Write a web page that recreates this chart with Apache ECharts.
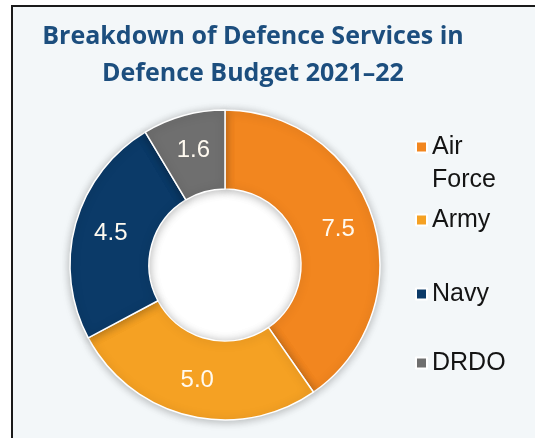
<!DOCTYPE html>
<html>
<head>
<meta charset="utf-8">
<script src="https://cdn.jsdelivr.net/npm/echarts@6/dist/echarts.min.js"></script>
<style>
	html, body { margin: 0; padding: 0; background: #fff; }
	#frame {
		position: absolute; left: 11px; top: 5px; width: 524px; height: 433px;
		border-top: 2px solid #1a1a1a; border-left: 2px solid #1a1a1a;
		background: #F3F7F9;
	}
	#main { position: absolute; left: 0; top: 0; width: 535px; height: 438px; }
</style>
</head>
<body>
<div id="frame"></div>
<div id="main"></div>
<script>
var TITLE = "Breakdown of Defence Services in\nDefence Budget 2021\u201322";
var services = ["Air Force", "Army", "Navy", "DRDO"];
var budget = [7.5, 5.0, 4.5, 1.6];
var colors = ["#F2861F", "#F5A123", "#0B3A68", "#6F6F6F"];

// legend rows, centre y of the first text line of each item
var legendMid = [147, 220, 294, 363];
var LH = 33;

var pieData = [];
for(var i = 0; i < services.length; i++) {
	pieData.push({
		name: services[i],
		value: budget[i],
		itemStyle: { color: colors[i] }
	});
}

var legends = [];
for(var j = 0; j < services.length; j++) {
	var twoLine = services[j] == "Air Force";
	legends.push({
		data: [services[j]],
		orient: 'vertical',
		left: 415,
		top: twoLine ? legendMid[j] - LH * 1.5 : legendMid[j] - LH / 2,
		padding: 0,
		itemWidth: 11,
		itemHeight: 11,
		icon: 'rect',
		selectedMode: false,
		formatter: function(name) {
			// blank first line keeps "Air" level with the square
			return name == "Air Force" ? " \nAir\nForce" : name;
		},
		textStyle: {
			fontFamily: 'Liberation Sans',
			fontSize: 25,
			lineHeight: LH,
			color: '#141414'
		}
	});
}

var myChart = echarts.init(document.getElementById("main"));
myChart.setOption({
	backgroundColor: 'transparent',
	animation: false,
	title: {
		text: TITLE,
		left: 253,
		top: 18,
		textAlign: 'center',
		padding: 0,
		textStyle: {
			fontFamily: 'Open Sans',
			fontWeight: 'bold',
			fontSize: 25,
			lineHeight: 37,
			color: '#1C4E7E'
		}
	},
	legend: legends,
	series: [
		{
			// white hole of the donut
			type: 'pie',
			center: [225, 265],
			radius: [0, 76],
			silent: true,
			label: { show: false },
			labelLine: { show: false },
			itemStyle: { color: '#ffffff' },
			data: [{ value: 1, name: '' }],
			z: 1
		},
		{
			type: 'pie',
			center: [225, 265],
			radius: [76, 155],
			startAngle: 90,
			clockwise: true,
			avoidLabelOverlap: false,
			itemStyle: {
				borderColor: '#ffffff',
				borderWidth: 1.5,
				shadowBlur: 10,
				shadowColor: 'rgba(0,0,0,0.28)',
				shadowOffsetY: 1
			},
			label: {
				show: true,
				position: 'inside',
				formatter: function(p) { return p.value.toFixed(1); },
				fontFamily: 'Liberation Sans',
				fontSize: 24,
				color: '#FFFAF0'
			},
			labelLine: { show: false },
			emphasis: { disabled: true },
			data: pieData,
			z: 2
		}
	]
});
</script>
</body>
</html>
